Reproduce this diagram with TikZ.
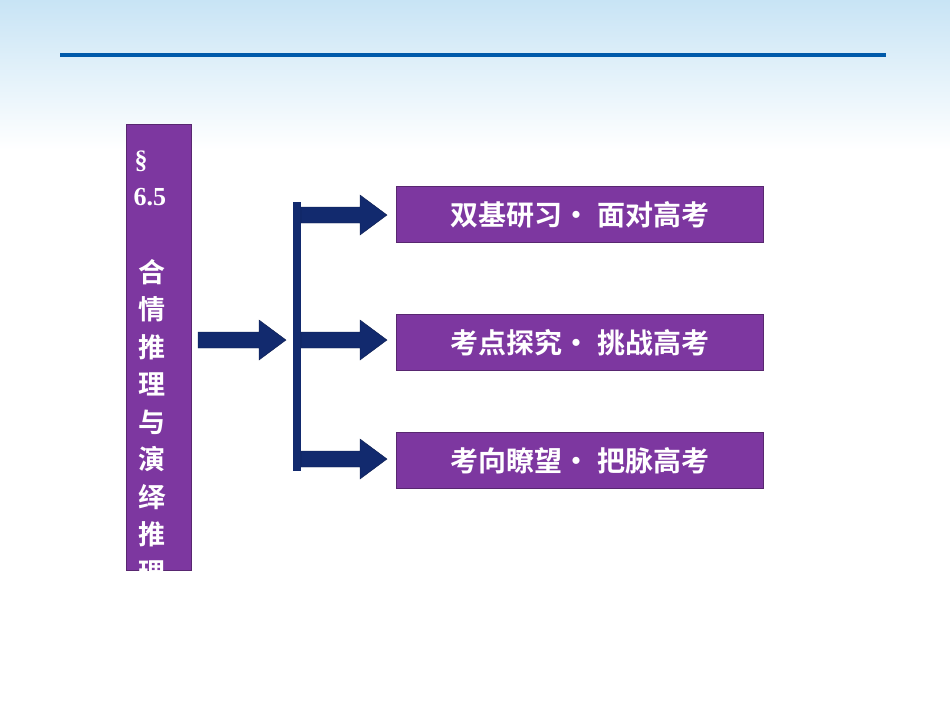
\documentclass[tikz,border=0pt]{standalone}
\usepackage{fontspec}
\newfontfamily\cjk{Noto Sans CJK SC Bold}
\setmainfont{Liberation Serif}
\definecolor{pur}{RGB}{125,55,160}
\definecolor{navy}{RGB}{18,42,110}
\definecolor{topblue}{RGB}{0,90,170}
\definecolor{sky}{RGB}{200,228,245}
\begin{document}
\begin{tikzpicture}[x=1pt,y=-1pt,
  box/.style={fill=pur,draw=pur!70!black,line width=0.8pt,minimum width=367pt,minimum height=56pt,anchor=north west,inner sep=0pt,text=white,font=\cjk\fontsize{28}{28}\selectfont},
  arr/.style={fill=navy,draw=navy!70!black}]
\useasboundingbox (0,0) rectangle (950,713);
\shade[top color=sky,bottom color=white] (0,0) rectangle (950,150);
\fill[topblue] (60,53) rectangle (886,57);
% left bar
\node[fill=pur,draw=pur!70!black,line width=0.8pt,minimum width=65pt,minimum height=446pt,anchor=north west,inner sep=0pt] (bar) at (126,124) {};
\begin{scope}
\clip (126,124) rectangle (191,570);
\node[text=white,font=\bfseries\fontsize{26}{26}\selectfont,anchor=west] (s1) at (131,161) {\S};
\node[text=white,font=\bfseries\fontsize{26}{26}\selectfont,anchor=west] (s2) at (130,197) {6.5};
\foreach \c [count=\i] in {合,情,推,理,与,演,绎,推,理}
  \node[text=white,font=\cjk\fontsize{27}{27}\selectfont] (c\i) at (152,{272+(\i-1)*37.5}) {\c};
\end{scope}
% vertical line
\fill[navy] (293,202) rectangle (301,471);
% arrows
\foreach \xa/\xb/\y/\n in {301/387/215/a1,198/286/340/a0,301/387/340/a2,301/387/459/a3}
  \filldraw[arr] (\xa,\y-8) -- (\xb-27,\y-8) -- (\xb-27,\y-20) -- (\xb,\y) -- (\xb-27,\y+20) -- (\xb-27,\y+8) -- (\xa,\y+8) -- cycle;
\node[box] (b1) at (396,186) {双基研习\textbullet\ 面对高考};
\node[box] (b2) at (396,314) {考点探究\textbullet\ 挑战高考};
\node[box] (b3) at (396,432) {考向瞭望\textbullet\ 把脉高考};
\end{tikzpicture}
\end{document}
